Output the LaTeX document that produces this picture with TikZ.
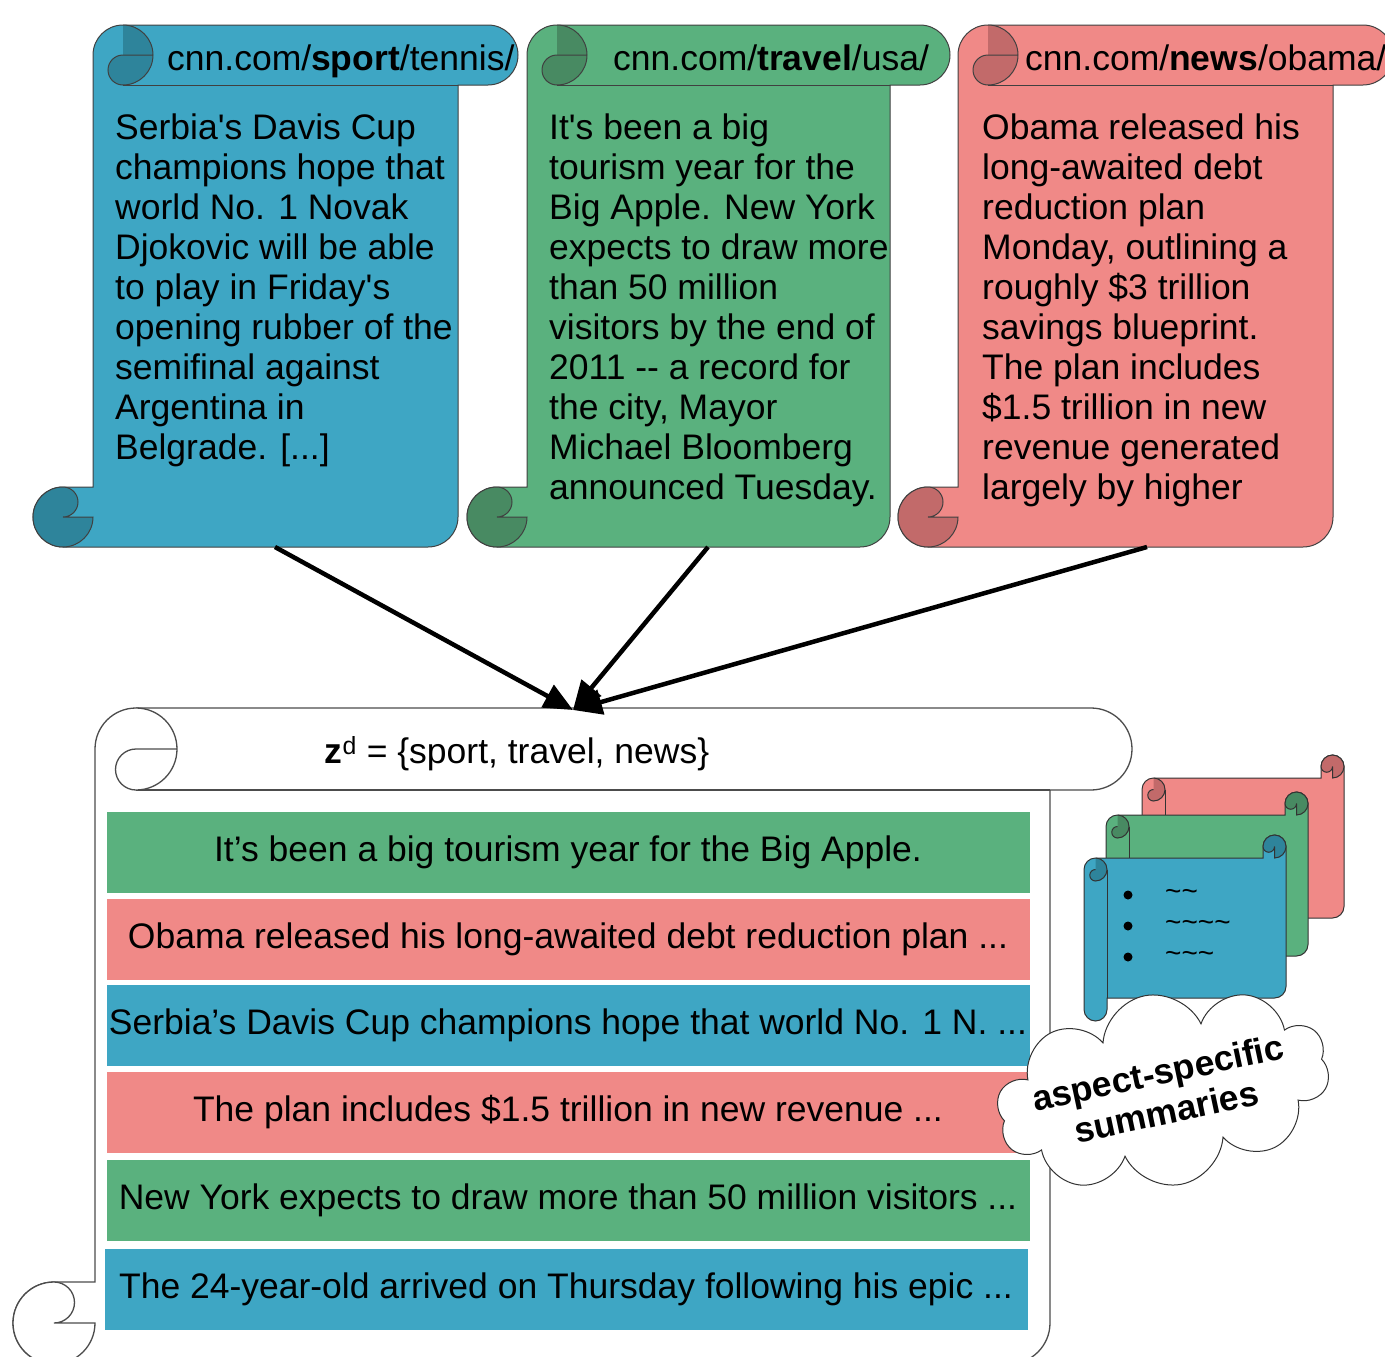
\documentclass[tikz,border=0pt]{standalone}
\usepackage{fontspec}
\setmainfont{Liberation Sans}
\usetikzlibrary{arrows.meta,shapes.symbols}

\definecolor{sportblue}{HTML}{3EA6C4}
\definecolor{sportdark}{HTML}{2E849B}
\definecolor{travelgreen}{HTML}{5AB17E}
\definecolor{traveldark}{HTML}{488A62}
\definecolor{newsred}{HTML}{F08987}
\definecolor{newsdark}{HTML}{C26A6A}

\newcommand{\bodyfont}{\fontsize{35.5}{40}\selectfont}
\newcommand{\sq}{\textquotesingle}

% document scroll, rolls at top and bottom: L T R B fill dark roll
\newcommand{\docscroll}[7]{%
  \pgfmathsetmacro{\scL}{#1}\pgfmathsetmacro{\scT}{#2}%
  \pgfmathsetmacro{\scR}{#3}\pgfmathsetmacro{\scB}{#4}%
  \pgfmathsetmacro{\scC}{#7}\pgfmathsetmacro{\scH}{#7/2}\pgfmathsetmacro{\scQ}{#7/4}%
  \filldraw[fill=#5] (\scL+\scH,\scB) -- (\scR-\scC-\scH,\scB)
    arc[start angle=90,end angle=0,radius=\scH] -- (\scR-\scC,\scT+\scC)
    -- (\scR-\scH,\scT+\scC) arc[start angle=90,end angle=-90,radius=\scH]
    -- (\scL+\scC+\scH,\scT) arc[start angle=-90,end angle=-180,radius=\scH]
    -- (\scL+\scC,\scB-\scC) -- (\scL+\scH,\scB-\scC)
    arc[start angle=-90,end angle=-270,radius=\scH] -- cycle;
  \draw (\scL+\scC+\scH,\scT+\scC) -- (\scR-\scC,\scT+\scC);
  \fill[#6] (\scL+\scC+\scH,\scT) arc[start angle=-90,end angle=90,radius=\scH]
    arc[start angle=90,end angle=270,radius=\scQ] -- cycle;
  \draw (\scL+\scC+\scH,\scT) arc[start angle=-90,end angle=90,radius=\scH]
    arc[start angle=90,end angle=270,radius=\scQ] -- (\scL+2*\scC,\scT+\scH);
  \filldraw[fill=#6] (\scL+\scH,\scB-\scC) arc[start angle=-90,end angle=-360,radius=\scH]
    -- (\scL+\scH,\scB-\scH) arc[start angle=90,end angle=-90,radius=\scQ] -- cycle;
}

% summary scroll, rolls at left and right: L T R B fill dark roll
\newcommand{\sumscroll}[7]{%
  \pgfmathsetmacro{\scL}{#1}\pgfmathsetmacro{\scT}{#2}%
  \pgfmathsetmacro{\scR}{#3}\pgfmathsetmacro{\scB}{#4}%
  \pgfmathsetmacro{\scC}{#7}\pgfmathsetmacro{\scH}{#7/2}\pgfmathsetmacro{\scQ}{#7/4}%
  \filldraw[fill=#5] (\scL,\scB-\scH) -- (\scL,\scT+\scC+\scH)
    arc[start angle=180,end angle=270,radius=\scH] -- (\scR-\scC,\scT+\scC)
    -- (\scR-\scC,\scT+\scH) arc[start angle=180,end angle=360,radius=\scH]
    -- (\scR,\scB-\scC-\scH) arc[start angle=0,end angle=90,radius=\scH]
    -- (\scL+\scC,\scB-\scC) -- (\scL+\scC,\scB-\scH)
    arc[start angle=0,end angle=180,radius=\scH] -- cycle;
  \draw (\scL+\scC,\scT+\scC+\scH) -- (\scL+\scC,\scB-\scC);
  \filldraw[fill=#6] (\scR-\scC,\scT+\scH) arc[start angle=180,end angle=450,radius=\scH]
    -- (\scR-\scH,\scT+\scH) arc[start angle=0,end angle=180,radius=\scQ] -- cycle;
  \fill[#6] (\scL+\scH,\scT+\scC) arc[start angle=-90,end angle=90,radius=\scH]
    arc[start angle=90,end angle=270,radius=\scQ] -- cycle;
  \draw (\scL+\scH,\scT+\scC) arc[start angle=-90,end angle=90,radius=\scH]
    arc[start angle=90,end angle=270,radius=\scQ];
}

\begin{document}
\begin{tikzpicture}[x=1pt,y=-1pt,
  urltext/.style={anchor=base west,inner sep=0pt,font=\bodyfont},
  bodytext/.style={anchor=north west,align=left,inner sep=0pt,font=\bodyfont},
  sentence/.style={minimum width=923pt,minimum height=81pt,inner sep=0pt,font=\bodyfont},
  feed/.style={line width=4.5pt,-{Triangle[length=29pt,width=25pt]}}]
\useasboundingbox (0,0) rectangle (1385,1357);

% source articles
\begin{scope}[draw=black!75,line width=1pt]
\docscroll{33}{25}{518}{547}{sportblue}{sportdark}{60}
\docscroll{467}{25}{950}{547}{travelgreen}{traveldark}{60}
\docscroll{898}{25}{1393}{547}{newsred}{newsdark}{60}
\end{scope}
\node[urltext] (sporturl) at (167,70) {cnn.com/\textbf{sport}/tennis/};
\node[urltext] (travelurl) at (613,70) {cnn.com/\textbf{travel}/usa/};
\node[urltext] (newsurl) at (1025,70) {cnn.com/\textbf{news}/obama/};
\node[bodytext] (sporttext) at (115,114) {Serbia\sq s Davis Cup\\champions hope that\\world No. 1 Novak\\Djokovic will be able\\to play in Friday\sq s\\opening rubber of the\\semifinal against\\Argentina in\\Belgrade. [...]};
\node[bodytext] (traveltext) at (549,114) {It\sq s been a big\\tourism year for the\\Big Apple. New York\\expects to draw more\\than 50 million\\visitors by the end of\\2011 -{}- a record for\\the city, Mayor\\Michael Bloomberg\\announced Tuesday.};
\node[bodytext] (newstext) at (982,114) {Obama released his\\long-awaited debt\\reduction plan\\Monday, outlining a\\roughly \$3 trillion\\savings blueprint.\\The plan includes\\\$1.5 trillion in new\\revenue generated\\largely by higher};

% summary scroll
\begin{scope}[draw=black!70,line width=1.3pt]
\docscroll{13}{708}{1132}{1364}{white}{white}{82}
\end{scope}
\node[font=\bodyfont] (aspects) at (517,754) {\textbf{z}\textsuperscript{d} = \{sport, travel, news\}};
\node[sentence,fill=travelgreen] (rowone) at (568,852) {It’s been a big tourism year for the Big Apple.};
\node[sentence,fill=newsred] (rowtwo) at (568,939) {Obama released his long-awaited debt reduction plan ...};
\node[sentence,fill=sportblue] (rowthree) at (568,1025) {Serbia’s Davis Cup champions hope that world No. 1 N. ...};
\node[sentence,fill=newsred] (rowfour) at (568,1112) {The plan includes \$1.5 trillion in new revenue ...};
\node[sentence,fill=travelgreen] (rowfive) at (568,1200) {New York expects to draw more than 50 million visitors ...};
\node[sentence,fill=sportblue] (rowsix) at (566,1289) {The 24-year-old arrived on Thursday following his epic ...};

% arrows into the summary
\coordinate (sportout) at (275,547);
\coordinate (travelout) at (708,547);
\coordinate (newsout) at (1147,547);
\coordinate (zin) at (573,710);
\draw[feed] (sportout) -- (zin);
\draw[feed] (travelout) -- (zin);
\draw[feed] (newsout) -- (zin);

% aspect-specific summaries
\begin{scope}[draw=black!80,line width=1pt]
\sumscroll{1142}{755}{1344}{941}{newsred}{newsdark}{23}
\sumscroll{1106}{792}{1308}{979}{travelgreen}{traveldark}{23}
\sumscroll{1084}{835}{1286}{1021}{sportblue}{sportdark}{23}
\end{scope}
\fill (1128,895) circle[radius=4.5] (1128,926) circle[radius=4.5] (1128,957) circle[radius=4.5];
\node[anchor=west,inner sep=0pt,font=\fontsize{28}{30}\selectfont] (tildeone) at (1165,895) {\textasciitilde\textasciitilde};
\node[anchor=west,inner sep=0pt,font=\fontsize{28}{30}\selectfont] (tildetwo) at (1165,926) {\textasciitilde\textasciitilde\textasciitilde\textasciitilde};
\node[anchor=west,inner sep=0pt,font=\fontsize{28}{30}\selectfont] (tildethree) at (1165,957) {\textasciitilde\textasciitilde\textasciitilde};
\node[cloud,cloud puffs=10,aspect=1.8,draw=black!80,fill=white,line width=1pt,minimum width=336pt,minimum height=192pt,inner sep=0pt,rotate=11] (aspectcloud) at (1163,1090) {};
\node[rotate=12,font=\bfseries\bodyfont,align=center,inner sep=0pt] (cloudtext) at (1162,1092) {aspect-specific\\summaries};
\end{tikzpicture}
\end{document}
